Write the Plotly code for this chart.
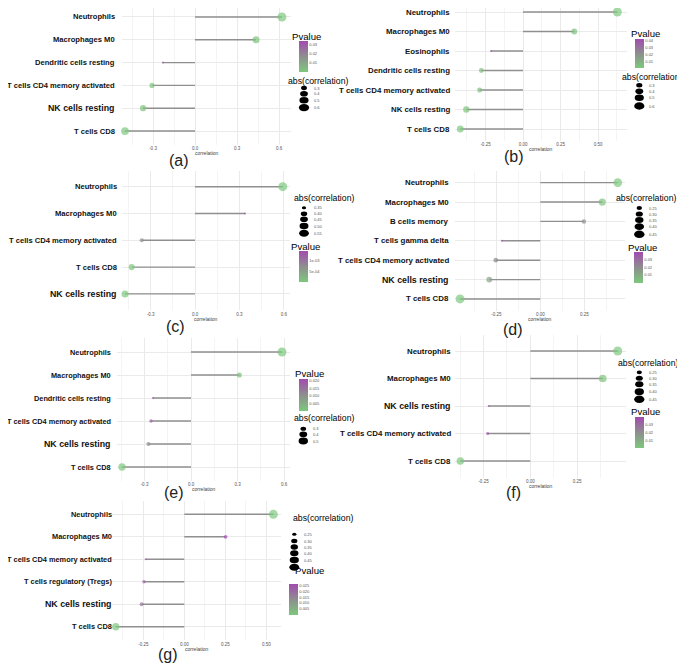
import math
import plotly.graph_objects as go

W, H = 685, 665
OFF = 8  # default page margin of the html body

# ---------------- data ----------------
a_cells = ["Neutrophils", "Macrophages M0", "Dendritic cells resting",
           "T cells CD4 memory activated", "NK cells resting", "T cells CD8"]
a_corr = [0.621, 0.436, -0.229, -0.307, -0.371, -0.500]
a_pval = [0.00005, 0.0008, 0.0345, 0.0015, 0.0010, 0.00003]
a_xticks = [-0.3, 0.0, 0.3, 0.6]
a_xlabels = ["-0.3", "0.0", "0.3", "0.6"]
a_size_breaks = [0.3, 0.4, 0.5, 0.6]
a_size_labels = ["0.3", "0.4", "0.5", "0.6"]
a_p_ticks = [0.01, 0.02, 0.03]
a_p_labels = ["0.01", "0.02", "0.03"]

b_cells = ["Neutrophils", "Macrophages M0", "Eosinophils", "Dendritic cells resting",
           "T cells CD4 memory activated", "NK cells resting", "T cells CD8"]
b_corr = [0.629, 0.342, -0.213, -0.278, -0.289, -0.378, -0.418]
b_pval = [0.0020, 0.0040, 0.0428, 0.0060, 0.0050, 0.0030, 0.0025]
b_xticks = [-0.25, 0.0, 0.25, 0.50]
b_xlabels = ["-0.25", "0.00", "0.25", "0.50"]
b_size_breaks = [0.3, 0.4, 0.5, 0.6]
b_size_labels = ["0.3", "0.4", "0.5", "0.6"]
b_p_ticks = [0.01, 0.02, 0.03, 0.04]
b_p_labels = ["0.01", "0.02", "0.03", "0.04"]

c_cells = ["Neutrophils", "Macrophages M0", "T cells CD4 memory activated",
           "T cells CD8", "NK cells resting"]
c_corr = [0.593, 0.338, -0.360, -0.428, -0.473]
c_pval = [0.000014, 0.00141, 0.00070, 0.00003, 0.000015]
c_xticks = [-0.3, 0.0, 0.3, 0.6]
c_xlabels = ["-0.3", "0.0", "0.3", "0.6"]
c_size_breaks = [0.35, 0.40, 0.45, 0.50, 0.55]
c_size_labels = ["0.35", "0.40", "0.45", "0.50", "0.55"]
c_p_ticks = [0.0005, 0.001]
c_p_labels = ["5e-04", "1e-03"]

d_cells = ["Neutrophils", "Macrophages M0", "B cells memory", "T cells gamma delta",
           "T cells CD4 memory activated", "NK cells resting", "T cells CD8"]
d_corr = [0.440, 0.352, 0.248, -0.218, -0.253, -0.290, -0.456]
d_pval = [0.00002, 0.0020, 0.0190, 0.0390, 0.0210, 0.0120, 0.00001]
d_xticks = [-0.50, -0.25, 0.0, 0.25]
d_xlabels = ["-0.50", "-0.25", "0.00", "0.25"]
d_size_breaks = [0.25, 0.30, 0.35, 0.40, 0.45]
d_size_labels = ["0.25", "0.30", "0.35", "0.40", "0.45"]
d_p_ticks = [0.01, 0.02, 0.03]
d_p_labels = ["0.01", "0.02", "0.03"]

e_cells = ["Neutrophils", "Macrophages M0", "Dendritic cells resting",
           "T cells CD4 memory activated", "NK cells resting", "T cells CD8"]
e_corr = [0.587, 0.312, -0.245, -0.258, -0.275, -0.445]
e_pval = [0.00001, 0.0010, 0.0210, 0.0175, 0.0110, 0.00002]
e_xticks = [-0.3, 0.0, 0.3, 0.6]
e_xlabels = ["-0.3", "0.0", "0.3", "0.6"]
e_size_breaks = [0.3, 0.4, 0.5]
e_size_labels = ["0.3", "0.4", "0.5"]
e_p_ticks = [0.005, 0.010, 0.015, 0.020]
e_p_labels = ["0.005", "0.010", "0.015", "0.020"]

f_cells = ["Neutrophils", "Macrophages M0", "NK cells resting",
           "T cells CD4 memory activated", "T cells CD8"]
f_corr = [0.467, 0.387, -0.222, -0.228, -0.374]
f_pval = [0.00002, 0.0015, 0.0395, 0.0370, 0.00005]
f_xticks = [-0.25, 0.0, 0.25]
f_xlabels = ["-0.25", "0.00", "0.25"]
f_size_breaks = [0.25, 0.30, 0.35, 0.40, 0.45]
f_size_labels = ["0.25", "0.30", "0.35", "0.40", "0.45"]
f_p_ticks = [0.01, 0.02, 0.03]
f_p_labels = ["0.01", "0.02", "0.03"]

g_cells = ["Neutrophils", "Macrophages M0", "T cells CD4 memory activated",
           "T cells regulatory (Tregs)", "NK cells resting", "T cells CD8"]
g_corr = [0.543, 0.252, -0.235, -0.246, -0.260, -0.418]
g_pval = [0.000001, 0.0260, 0.0240, 0.0220, 0.0170, 0.00001]
g_xticks = [-0.25, 0.0, 0.25, 0.50]
g_xlabels = ["-0.25", "0.00", "0.25", "0.50"]
g_size_breaks = [0.25, 0.30, 0.35, 0.40, 0.45, 0.50]
g_size_labels = ["0.25", "0.30", "0.35", "0.40", "0.45", ""]
g_p_ticks = [0.005, 0.010, 0.015, 0.020, 0.025]
g_p_labels = ["0.005", "0.010", "0.015", "0.020", "0.025"]

tags = ["(a)", "(b)", "(c)", "(d)", "(e)", "(f)", "(g)"]

# ---------------- layout geometry (window pixels) ----------------
geo = [
    dict(L=122, R=291, T=3.3, B=144.7, zero=195, ppu=140, lab=117, fs=7.6, tag=(179, 160),
         pv=(290, 36), cb=(298.7, 40.7, 71.7), sz=(286, 81), kx=304,
         ky=[88, 93.8, 100.2, 107.6], big=True),
    dict(L=455, R=627, T=0.3, B=140.7, zero=523, ppu=150, lab=452, fs=7.85, tag=(514, 156),
         pv=(629, 33), cb=(634.7, 38.7, 67.7), sz=(619.7, 76.7), kx=639.3,
         ky=[85.3, 91.3, 97.7, 106], big=False),
    dict(L=122, R=290, T=170.6, B=310, zero=195, ppu=148, lab=119, fs=7.6, tag=(175, 327),
         pv=(289.3, 246), cb=(298.7, 251, 281.7), sz=(292, 198.3), kx=304,
         ky=[207.7, 213.7, 219.3, 226, 233.3], big=True),
    dict(L=455, R=625, T=171, B=310.6, zero=540.3, ppu=176, lab=451, fs=7.85, tag=(513, 329),
         pv=(626, 247.3), cb=(634, 252, 283.3), sz=(614.3, 198.3), kx=639.3,
         ky=[208, 214, 220, 226.7, 234.3], big=True),
    dict(L=117, R=290, T=338.2, B=480.8, zero=191, ppu=155, lab=113, fs=7.35, tag=(174, 492),
         pv=(293, 373.3), cb=(299, 379.3, 411.7), sz=(292, 418.3), kx=303.3,
         ky=[428.7, 434.3, 441], big=True),
    dict(L=455, R=626, T=334.5, B=477.5, zero=530.3, ppu=187.2, lab=453, fs=7.85, tag=(513, 492),
         pv=(628.7, 411.7), cb=(634.7, 417.3, 448.3), sz=(616, 363.3), kx=639.3,
         ky=[372.3, 378.3, 384.3, 391.7, 399.3], big=True),
    dict(L=112, R=281, T=500.8, B=640.2, zero=184.3, ppu=164, lab=114, fs=7.4, tag=(168, 654),
         pv=(292.7, 570), cb=(289, 584, 615), sz=(290.7, 518.3), kx=294.3,
         ky=[534.3, 541, 547, 553.3, 560, 567.3], big=True),
]

panels = [
    (a_cells, a_corr, a_pval, a_xticks, a_xlabels, a_size_breaks, a_size_labels, a_p_ticks, a_p_labels),
    (b_cells, b_corr, b_pval, b_xticks, b_xlabels, b_size_breaks, b_size_labels, b_p_ticks, b_p_labels),
    (c_cells, c_corr, c_pval, c_xticks, c_xlabels, c_size_breaks, c_size_labels, c_p_ticks, c_p_labels),
    (d_cells, d_corr, d_pval, d_xticks, d_xlabels, d_size_breaks, d_size_labels, d_p_ticks, d_p_labels),
    (e_cells, e_corr, e_pval, e_xticks, e_xlabels, e_size_breaks, e_size_labels, e_p_ticks, e_p_labels),
    (f_cells, f_corr, f_pval, f_xticks, f_xlabels, f_size_breaks, f_size_labels, f_p_ticks, f_p_labels),
    (g_cells, g_corr, g_pval, g_xticks, g_xlabels, g_size_breaks, g_size_labels, g_p_ticks, g_p_labels),
]

# ---------------- styles ----------------
GREEN, GRAY, PURPLE = "#7DC87D", "#8E8E8E", "#A24BB0"
SEG = "#8F8F8F"
GRID, MINOR = "#EAEAEA", "#F4F4F4"
FONT = "Liberation Sans, Arial, sans-serif"
BIG_SIZE = 8.8
DMIN, DMAX = 2.5, 10.5

FW, FH = W - OFF, H - OFF  # figure size (page body keeps an 8px margin)


def diam(v, vmin, vmax):
    t = 0.0 if vmax == vmin else max(0.0, (v - vmin) / (vmax - vmin))
    return DMIN + (DMAX - DMIN) * math.sqrt(t)


def px(x):
    return (x - OFF) / FW


def py(y):
    return 1 - (y - OFF) / FH


fig = go.Figure()
annotations, shapes = [], []
lay = {}

for k, (cells, corr, pval, xt, xl, sb, sl, pt, pl) in enumerate(panels, start=1):
    g = geo[k - 1]
    sid = "" if k == 1 else str(k)
    xa, ya, ca = "x" + sid, "y" + sid, "coloraxis" + sid
    n = len(cells)
    ys = list(range(n))

    segx, segy = [], []
    for i, c in enumerate(corr):
        segx += [0, c, None]
        segy += [i, i, None]
    fig.add_trace(go.Scatter(x=segx, y=segy, mode="lines", xaxis=xa, yaxis=ya,
                             line=dict(color=SEG, width=1.4), hoverinfo="skip",
                             showlegend=False, cliponaxis=False))
    absr = [abs(c) for c in corr]
    vmin, vmax = min(absr), max(absr)
    sizes = [0.85 * diam(a, vmin, vmax) for a in absr]
    fig.add_trace(go.Scatter(x=corr, y=ys, mode="markers", xaxis=xa, yaxis=ya,
                             marker=dict(size=sizes, color=pval, coloraxis=ca,
                                         line=dict(width=0)),
                             cliponaxis=False, showlegend=False))

    top_px = max(g["T"], OFF)
    r0 = (g["L"] - g["zero"]) / g["ppu"]
    r1 = (g["R"] - g["zero"]) / g["ppu"]
    step = xt[1] - xt[0]
    minor = [xt[0] - step / 2] + [v + step / 2 for v in xt]
    minor = [m for m in minor if r0 <= m <= r1]
    # y range: 0.6 category expansion, trimmed where the panel top meets the page top
    spacing = (g["B"] - g["T"]) / (n - 1 + 1.2)
    ytop = -0.6 + (top_px - g["T"]) / spacing

    lay["xaxis" + sid] = dict(domain=[px(g["L"]), px(g["R"])], anchor=ya,
                              range=[r0, r1], tickmode="array", tickvals=xt, ticktext=xl,
                              tickfont=dict(size=4.5, color="#555555", family=FONT),
                              showgrid=True, gridcolor=GRID, gridwidth=1,
                              zeroline=False, showline=False, ticks="",
                              minor=dict(tickmode="array", tickvals=minor, showgrid=True,
                                         gridcolor=MINOR, gridwidth=0.7, ticks=""),
                              fixedrange=True)
    lay["yaxis" + sid] = dict(domain=[py(g["B"]), min(1, py(top_px))], anchor=xa,
                              range=[n - 1 + 0.6, ytop], tickmode="array", tickvals=ys,
                              showticklabels=False, showgrid=True, gridcolor=GRID,
                              gridwidth=1, zeroline=False, showline=False, ticks="",
                              fixedrange=True)

    cbx, cbt, cbb = g["cb"]
    lay[ca] = dict(cmin=min(pval), cmax=max(pval),
                   colorscale=[[0, GREEN], [0.5, GRAY], [1, PURPLE]],
                   colorbar=dict(x=px(cbx), xanchor="left", y=py(cbt), yanchor="top",
                                 len=cbb - cbt, lenmode="pixels", thickness=8.5,
                                 thicknessmode="pixels", xpad=0, ypad=0, outlinewidth=0,
                                 tickmode="array", tickvals=pt, ticktext=pl, ticks="",
                                 tickfont=dict(size=4, color="#555555", family=FONT),
                                 title=dict(text="")))

    # y category labels
    for i, c in enumerate(cells):
        big = g["big"] and c == "NK cells resting"
        annotations.append(dict(text=c, xref=xa + " domain", x=0, xanchor="right",
                                xshift=g["lab"] - g["L"], yref=ya, y=i, yanchor="middle",
                                showarrow=False,
                                font=dict(size=BIG_SIZE if big else g["fs"],
                                          color="#111111", family=FONT, weight="bold")))
    # x axis title
    annotations.append(dict(text="correlation", xref="paper", yref="paper",
                            x=px((g["L"] + g["R"]) / 2), y=py(g["B"] + 8.5),
                            xanchor="center", yanchor="middle", showarrow=False,
                            font=dict(size=5, color="#444444", family=FONT)))
    # panel tag
    annotations.append(dict(text=tags[k - 1], xref="paper", yref="paper",
                            x=px(g["tag"][0]), y=py(g["tag"][1]), xanchor="center",
                            yanchor="middle", showarrow=False,
                            font=dict(size=16, color="#222222", family=FONT)))
    # legend titles
    annotations.append(dict(text="Pvalue", xref="paper", yref="paper",
                            x=px(g["pv"][0]), y=py(g["pv"][1]), xanchor="left",
                            yanchor="middle", showarrow=False,
                            font=dict(size=9.6, color="#000000", family=FONT)))
    annotations.append(dict(text="abs(correlation)", xref="paper", yref="paper",
                            x=px(g["sz"][0]), y=py(g["sz"][1]), xanchor="left",
                            yanchor="middle", showarrow=False,
                            font=dict(size=8.7, color="#000000", family=FONT)))
    # size legend keys
    for b, lab, ky in zip(sb, sl, g["ky"]):
        d = diam(b, vmin, vmax)
        w, h = d, d * 0.72
        shapes.append(dict(type="circle", xref="paper", yref="paper",
                           x0=px(g["kx"] - w / 2), x1=px(g["kx"] + w / 2),
                           y0=py(ky + h / 2), y1=py(ky - h / 2),
                           fillcolor="#000000", line=dict(width=0), layer="above"))
        if lab:
            annotations.append(dict(text=lab, xref="paper", yref="paper",
                                    x=px(g["kx"] + 8), y=py(ky), xanchor="left",
                                    yanchor="middle", showarrow=False,
                                    font=dict(size=4, color="#555555", family=FONT)))

fig.update_layout(width=FW, height=FH,
                  margin=dict(l=0, r=0, t=0, b=0, pad=0, autoexpand=False),
                  paper_bgcolor="white", plot_bgcolor="white",
                  showlegend=False, annotations=annotations, shapes=shapes, **lay)

fig.write_html("out.html")
